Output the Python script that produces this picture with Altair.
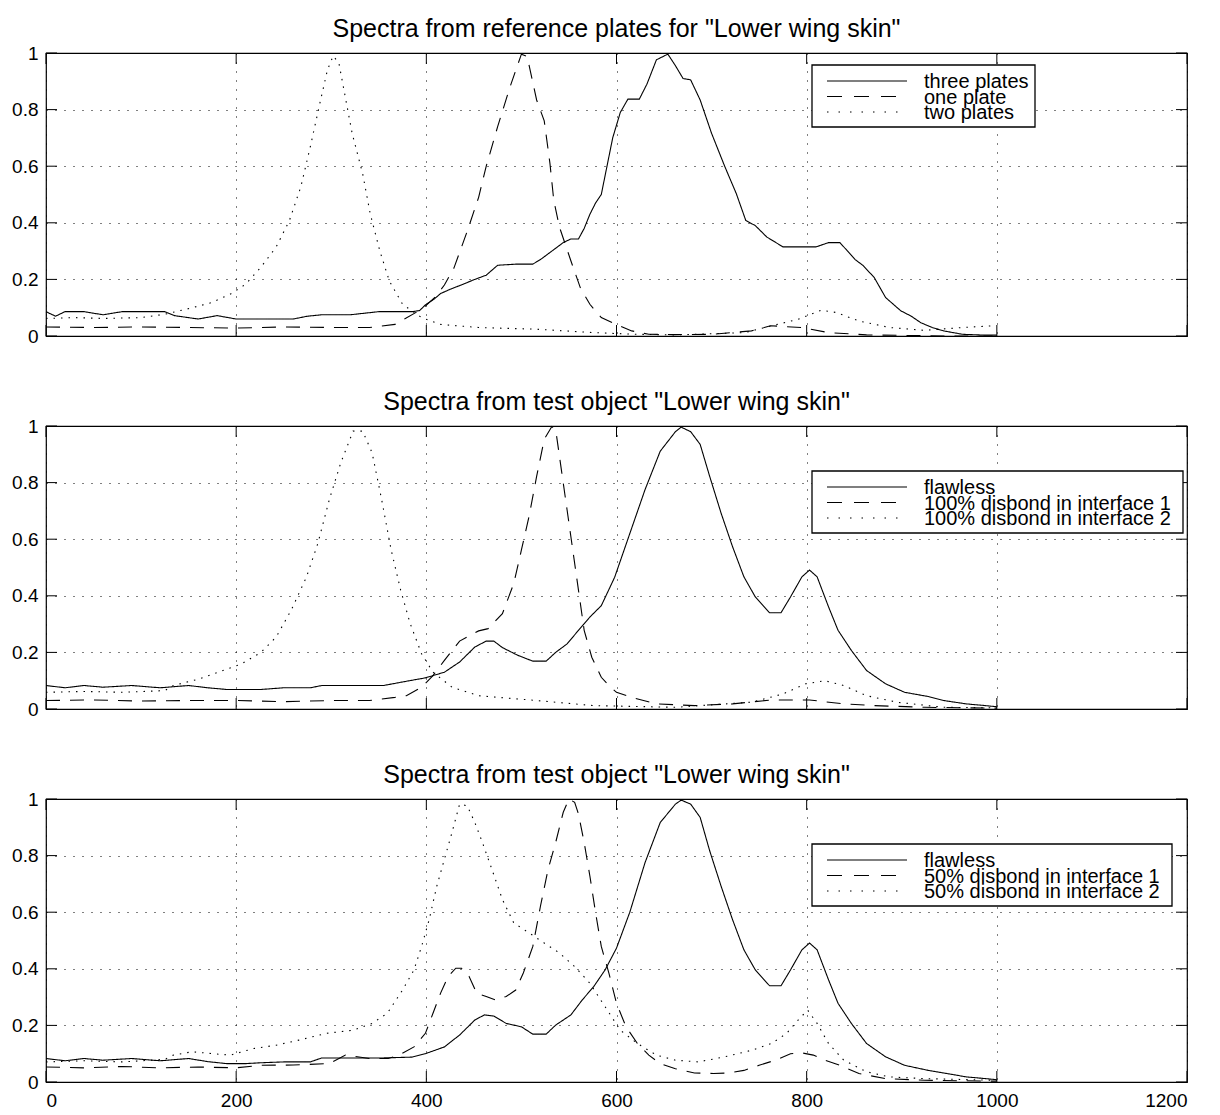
import altair as alt
import pandas as pd

# ---------------- data ----------------
X_TICKS = [0, 200, 400, 600, 800, 1000, 1200]
Y_TICKS = [0, 0.2, 0.4, 0.6, 0.8, 1.0]

TITLE1 = 'Spectra from reference plates for "Lower wing skin"'
TITLE2 = 'Spectra from test object "Lower wing skin"'
TITLE3 = 'Spectra from test object "Lower wing skin"'

NAMES1 = ["three plates", "one plate", "two plates"]
NAMES2 = ["flawless", "100% disbond in interface 1", "100% disbond in interface 2"]
NAMES3 = ["flawless", "50% disbond in interface 1", "50% disbond in interface 2"]

# panel 1
P1_SOLID_X = [0, 10, 20, 40, 60, 80, 100, 125, 135, 160, 180, 200, 230, 260, 275, 290, 320, 350, 370, 385, 393, 399,
              408, 415, 425, 435, 451, 463, 475, 495, 512, 520, 528, 536, 544, 552, 560, 566, 572, 578, 584, 590, 596,
              604, 612, 624, 632, 642, 654, 662, 670, 678, 688, 700, 714, 726, 736, 746, 758, 775, 799, 810, 823, 835,
              843, 851, 859, 871, 883, 899, 910, 920, 932, 944, 964, 988, 1000]
P1_SOLID_Y = [0.086, 0.07, 0.086, 0.086, 0.075, 0.086, 0.086, 0.086, 0.072, 0.06, 0.072, 0.06, 0.06, 0.06, 0.07, 0.075,
              0.075, 0.086, 0.086, 0.086, 0.09, 0.11, 0.13, 0.15, 0.165, 0.178, 0.2, 0.215, 0.25, 0.254, 0.254, 0.27,
              0.29, 0.31, 0.33, 0.343, 0.343, 0.38, 0.43, 0.47, 0.50, 0.6, 0.70, 0.79, 0.837, 0.837, 0.89, 0.976,
              0.996, 0.955, 0.91, 0.905, 0.834, 0.716, 0.598, 0.503, 0.408, 0.39, 0.35, 0.315, 0.315, 0.315, 0.33,
              0.33, 0.3, 0.27, 0.25, 0.207, 0.136, 0.089, 0.07, 0.047, 0.03, 0.018, 0.006, 0.003, 0.003]
P1_DASH_X = [0, 50, 100, 150, 200, 250, 300, 340, 367, 377, 390, 399, 410, 419, 429, 443, 455, 463, 475, 488, 500, 506,
             516, 524, 530, 534, 540, 552, 562, 572, 584, 600, 616, 634, 660, 700, 742, 762, 795, 823, 863, 944, 1000]
P1_DASH_Y = [0.032, 0.03, 0.032, 0.03, 0.028, 0.032, 0.03, 0.03, 0.041, 0.06, 0.085, 0.106, 0.14, 0.18, 0.24, 0.37,
             0.49, 0.60, 0.74, 0.88, 0.996, 0.988, 0.834, 0.76, 0.61, 0.48, 0.385, 0.266, 0.17, 0.112, 0.065, 0.041,
             0.018, 0.006, 0.005, 0.006, 0.018, 0.036, 0.03, 0.012, 0.004, 0.0, 0.0]
P1_DOT_X = [0, 30, 60, 100, 125, 154, 174, 194, 210, 226, 242, 256, 268, 278, 288, 296, 302, 308, 314, 322, 333, 341,
            351, 361, 375, 395, 415, 455, 516, 576, 620, 662, 735, 763, 791, 815, 831, 855, 887, 924, 964, 996]
P1_DOT_Y = [0.062, 0.065, 0.062, 0.065, 0.077, 0.10, 0.118, 0.148, 0.183, 0.243, 0.314, 0.408, 0.527, 0.669, 0.822,
            0.94, 0.99, 0.965, 0.858, 0.716, 0.574, 0.432, 0.302, 0.195, 0.112, 0.065, 0.041, 0.03, 0.024, 0.012,
            0.006, 0.004, 0.012, 0.036, 0.059, 0.091, 0.083, 0.053, 0.03, 0.02, 0.03, 0.036]

# panel 2
P2_SOLID_X = [0, 20, 40, 60, 90, 120, 150, 170, 190, 210, 226, 250, 278, 290, 320, 355, 379, 399, 419, 435, 451, 463,
              471, 480, 496, 512, 526, 536, 548, 560, 572, 584, 598, 614, 630, 646, 662, 668, 678, 688, 698, 710, 722,
              734, 746, 761, 773, 783, 795, 803, 811, 823, 833, 847, 863, 883, 903, 928, 944, 968, 988, 1000]
P2_SOLID_Y = [0.083, 0.075, 0.083, 0.077, 0.083, 0.075, 0.083, 0.075, 0.069, 0.069, 0.069, 0.075, 0.075, 0.083, 0.083,
              0.083, 0.098, 0.11, 0.13, 0.166, 0.219, 0.24, 0.24, 0.217, 0.19, 0.169, 0.169, 0.2, 0.23, 0.278, 0.325,
              0.365, 0.465, 0.62, 0.775, 0.911, 0.98, 0.996, 0.98, 0.935, 0.822, 0.692, 0.574, 0.467, 0.396, 0.34,
              0.34, 0.396, 0.467, 0.491, 0.467, 0.361, 0.278, 0.207, 0.136, 0.089, 0.059, 0.044, 0.03, 0.018, 0.012,
              0.008]
P2_DASH_X = [0, 50, 100, 150, 200, 250, 300, 340, 367, 379, 395, 407, 419, 435, 455, 465, 480, 492, 500, 508, 516, 524,
             532, 536, 542, 548, 554, 560, 566, 574, 584, 592, 600, 616, 642, 682, 722, 763, 803, 839, 871, 924, 1000]
P2_DASH_Y = [0.03, 0.032, 0.028, 0.03, 0.03, 0.026, 0.03, 0.03, 0.041, 0.047, 0.077, 0.118, 0.172, 0.24, 0.276, 0.284,
             0.337, 0.444, 0.562, 0.68, 0.822, 0.953, 0.998, 0.988, 0.846, 0.704, 0.562, 0.42, 0.278, 0.183, 0.112,
             0.083, 0.059, 0.041, 0.018, 0.012, 0.018, 0.032, 0.032, 0.018, 0.012, 0.006, 0.003]
P2_DOT_X = [0, 40, 80, 125, 134, 162, 186, 206, 226, 242, 258, 274, 286, 298, 310, 323, 333, 343, 353, 363, 373, 383,
            395, 407, 427, 455, 516, 576, 662, 742, 775, 799, 819, 839, 863, 895, 944, 1000]
P2_DOT_Y = [0.059, 0.062, 0.059, 0.065, 0.083, 0.107, 0.136, 0.16, 0.2, 0.254, 0.35, 0.467, 0.586, 0.74, 0.87, 0.982,
            0.982, 0.905, 0.74, 0.562, 0.42, 0.302, 0.195, 0.13, 0.077, 0.047, 0.03, 0.012, 0.006, 0.024, 0.053,
            0.089, 0.1, 0.083, 0.047, 0.024, 0.006, 0.004]

# panel 3
P3_SOLID_X = [0, 20, 40, 60, 90, 120, 150, 170, 190, 210, 226, 250, 278, 290, 320, 355, 385, 399, 419, 435, 451, 461,
              471, 484, 500, 512, 526, 536, 552, 564, 576, 588, 600, 614, 630, 646, 662, 668, 678, 688, 698, 710, 722,
              734, 746, 761, 773, 783, 795, 803, 811, 823, 833, 847, 863, 883, 903, 928, 944, 968, 988, 1000]
P3_SOLID_Y = [0.083, 0.075, 0.083, 0.077, 0.083, 0.075, 0.083, 0.072, 0.065, 0.065, 0.068, 0.071, 0.071, 0.085, 0.085,
              0.085, 0.088, 0.1, 0.124, 0.166, 0.219, 0.237, 0.233, 0.207, 0.195, 0.169, 0.169, 0.201, 0.237, 0.29,
              0.337, 0.396, 0.473, 0.6, 0.775, 0.917, 0.982, 0.996, 0.982, 0.935, 0.817, 0.692, 0.574, 0.467, 0.396,
              0.34, 0.34, 0.396, 0.467, 0.491, 0.467, 0.361, 0.278, 0.207, 0.136, 0.089, 0.059, 0.041, 0.032, 0.018,
              0.012, 0.008]
P3_DASH_X = [0, 40, 80, 120, 160, 200, 226, 260, 298, 315, 340, 360, 371, 387, 399, 407, 415, 423, 431, 437, 445, 453,
             463, 473, 484, 494, 502, 512, 520, 528, 536, 544, 550, 556, 560, 566, 572, 578, 584, 592, 600, 610, 622,
             634, 646, 662, 682, 702, 718, 734, 750, 767, 783, 795, 807, 819, 835, 855, 883, 924, 1000]
P3_DASH_Y = [0.053, 0.05, 0.055, 0.05, 0.053, 0.05, 0.059, 0.06, 0.065, 0.095, 0.083, 0.083, 0.095, 0.124, 0.172,
             0.243, 0.314, 0.373, 0.402, 0.402, 0.373, 0.314, 0.302, 0.29, 0.302, 0.325, 0.385, 0.479, 0.621, 0.751,
             0.846, 0.953, 1.0, 0.988, 0.947, 0.846, 0.728, 0.598, 0.479, 0.385, 0.278, 0.195, 0.136, 0.095, 0.065,
             0.047, 0.032, 0.03, 0.032, 0.041, 0.059, 0.077, 0.1, 0.103, 0.095, 0.077, 0.059, 0.03, 0.012, 0.006,
             0.003]
P3_DOT_X = [0, 40, 80, 125, 134, 154, 175, 194, 218, 242, 266, 295, 323, 343, 359, 375, 387, 395, 403, 411, 419, 427,
            435, 443, 451, 459, 469, 480, 492, 508, 524, 540, 556, 572, 588, 604, 622, 642, 662, 686, 714, 742, 763,
            779, 791, 801, 811, 823, 839, 863, 887, 924, 1000]
P3_DOT_Y = [0.071, 0.075, 0.071, 0.08, 0.095, 0.107, 0.1, 0.095, 0.118, 0.13, 0.148, 0.172, 0.183, 0.207, 0.243,
            0.325, 0.396, 0.479, 0.574, 0.692, 0.787, 0.882, 0.982, 0.976, 0.917, 0.846, 0.751, 0.645, 0.562, 0.527,
            0.491, 0.456, 0.408, 0.349, 0.266, 0.183, 0.136, 0.095, 0.077, 0.071, 0.089, 0.112, 0.136, 0.172, 0.219,
            0.254, 0.207, 0.136, 0.077, 0.036, 0.018, 0.012, 0.006]

# ---------------- styling ----------------
W, H = 1141, 283
FONT = "Liberation Sans"
DASHES = [[1, 0], [14, 10], [1.5, 6]]
LEG_DASHES = [[1, 0], [15, 12], [1.5, 10]]
TICK_LEN = 11


def panel(title, names, xs, ys, box_right, box_top, show_x):
    xscale = alt.Scale(domain=[0, 1200], nice=False, zero=False)
    yscale = alt.Scale(domain=[0, 1], nice=False, zero=False)
    xaxis = alt.Axis(values=X_TICKS, grid=True, labels=show_x, ticks=False, domain=False,
                     title=None, format="d", labelPadding=9)
    yaxis = alt.Axis(values=Y_TICKS, grid=True, labels=True, ticks=False, domain=False,
                     title=None, format="~g", labelPadding=8)
    X = lambda: alt.X("x:Q", scale=xscale, axis=xaxis)
    Y = lambda: alt.Y("y:Q", scale=yscale, axis=yaxis)

    layers = []
    for i, (name, xx, yy) in enumerate(zip(names, xs, ys)):
        df = pd.DataFrame({"x": xx, "y": yy})
        layers.append(alt.Chart(df).mark_line(color="black", strokeWidth=1.1, strokeDash=DASHES[i]).encode(
            x=X(), y=Y(), order=alt.Order("x:Q")))

    xt = pd.DataFrame({"x": X_TICKS})
    yt = pd.DataFrame({"y": Y_TICKS})
    layers.append(alt.Chart(xt).mark_rule(color="black", strokeWidth=1).encode(
        x=X(), y=alt.value(H), y2=alt.value(H - TICK_LEN)))
    layers.append(alt.Chart(xt).mark_rule(color="black", strokeWidth=1).encode(
        x=X(), y=alt.value(0), y2=alt.value(TICK_LEN)))
    layers.append(alt.Chart(yt).mark_rule(color="black", strokeWidth=1).encode(
        y=Y(), x=alt.value(0), x2=alt.value(TICK_LEN)))
    layers.append(alt.Chart(yt).mark_rule(color="black", strokeWidth=1).encode(
        y=Y(), x=alt.value(W - TICK_LEN), x2=alt.value(W)))

    one = pd.DataFrame({"k": [0]})
    box_left = 766
    layers.append(alt.Chart(one).mark_rect(fill="white", stroke="black", strokeWidth=1.3).encode(
        x=alt.value(box_left), x2=alt.value(box_right), y=alt.value(box_top), y2=alt.value(box_top + 62)))
    for i, name in enumerate(names):
        ly = box_top + 16 + i * 15.5
        layers.append(alt.Chart(one).mark_rule(color="black", strokeWidth=1.1,
                                               strokeDash=LEG_DASHES[i]).encode(
            x=alt.value(box_left + 15), x2=alt.value(box_left + 95), y=alt.value(ly)))
        layers.append(alt.Chart(one).mark_text(align="left", baseline="alphabetic", font=FONT,
                                               fontSize=20, color="black").encode(
            x=alt.value(box_left + 112), y=alt.value(ly + 7), text=alt.value(name)))

    return alt.layer(*layers).properties(
        width=W, height=H, title=alt.TitleParams(title, anchor="middle"))


p1 = panel(TITLE1, NAMES1, [P1_SOLID_X, P1_DASH_X, P1_DOT_X], [P1_SOLID_Y, P1_DASH_Y, P1_DOT_Y], 989, 12, False)
p2 = panel(TITLE2, NAMES2, [P2_SOLID_X, P2_DASH_X, P2_DOT_X], [P2_SOLID_Y, P2_DASH_Y, P2_DOT_Y], 1137, 45, False)
p3 = panel(TITLE3, NAMES3, [P3_SOLID_X, P3_DASH_X, P3_DOT_X], [P3_SOLID_Y, P3_DASH_Y, P3_DOT_Y], 1126, 45, True)

chart = alt.vconcat(p1, p2, p3, spacing=90, bounds="flush").properties(
    padding={"left": 2, "top": 8, "right": 5, "bottom": 0}
).configure_view(stroke="black", strokeWidth=1.2).configure_axis(
    labelFont=FONT, labelFontSize=19, labelColor="black",
    gridColor="black", gridDash=[1, 8], gridOpacity=1, gridWidth=1,
).configure_title(font=FONT, fontSize=25, fontWeight="normal", color="black", offset=2)

chart.save("out.html", embed_options={"renderer": "svg", "actions": False})
